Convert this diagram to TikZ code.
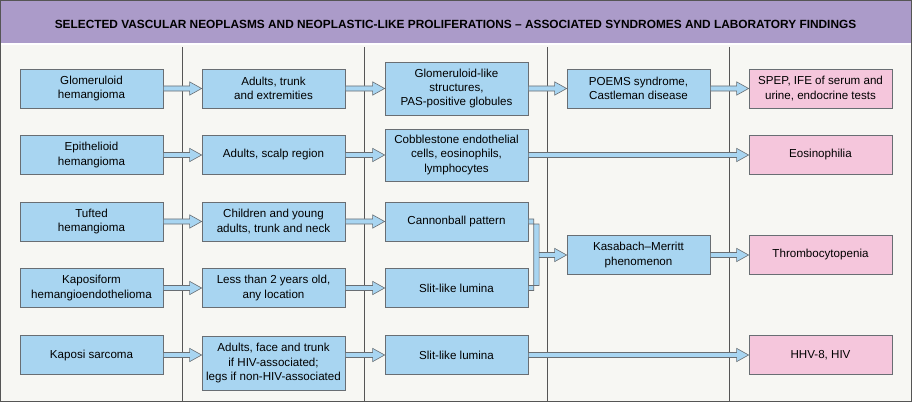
\documentclass[tikz,border=0pt]{standalone}
\usepackage{fontspec}
\setmainfont{Liberation Sans}
\usetikzlibrary{calc}

\definecolor{hdrpurple}{RGB}{171,155,201}
\definecolor{bodygray}{RGB}{247,247,243}
\definecolor{cellblue}{RGB}{168,213,241}
\definecolor{cellpink}{RGB}{245,198,220}
\definecolor{edgegray}{RGB}{105,110,115}
\definecolor{rulegray}{RGB}{85,85,85}

\begin{document}
\begin{tikzpicture}[x=0.75pt,y=0.75pt,yscale=-1,
  cell/.style={draw=edgegray, fill=cellblue, line width=0.6pt, minimum width=107.25pt, minimum height=29.25pt, inner sep=0pt, align=center, font=\fontsize{8.7}{10.7}\selectfont},
  labcell/.style={cell, fill=cellpink},
  blockarr/.style={draw=edgegray, fill=cellblue, line width=0.45pt,
    to path={let \p1=(\tikztostart), \p2=(\tikztotarget) in
      (\x1,\y1+1.9pt) -- (\x2-9pt,\y1+1.9pt) -- (\x2-9pt,\y1+5pt) -- (\x2,\y1) -- (\x2-9pt,\y1-5pt) -- (\x2-9pt,\y1-1.9pt) -- (\x1,\y1-1.9pt) -- cycle}},
  joinarr/.style={draw=edgegray, fill=cellblue, line width=0.45pt}
]
\useasboundingbox (0,0) rectangle (912,402);

%Shape: Frame
\draw[rulegray, fill=bodygray, line width=0.8pt] (0.5,0.5) rectangle (911.5,401.5);
%Shape: Header bar
\fill[hdrpurple] (1,1) rectangle (911,43);
\draw[white, line width=1.5pt] (1,44.5) -- (911,44.5);
%Straight Lines: column rules
\foreach \cx in {182.5,364.5,547.5,729.5}
  \draw[rulegray, line width=0.75pt] (\cx,47) -- (\cx,401);

% Text Node
\draw (455.5,24) node[font=\bfseries\fontsize{8.9}{10}\selectfont] (title) {SELECTED VASCULAR NEOPLASMS AND NEOPLASTIC-LIKE PROLIFERATIONS -- ASSOCIATED SYNDROMES AND LABORATORY FINDINGS};

%Row: glomeruloid
\draw (91.5,88.5) node[cell] (glom) {Glomeruloid\\hemangioma};
\draw (273.5,88.5) node[cell] (glomsite) {Adults, trunk\\and extremities};
\draw (456.5,88.5) node[cell, minimum height=39.75pt] (glomhist) {Glomeruloid-like\\structures,\\PAS-positive globules};
\draw (638.5,88.5) node[cell] (poems) {POEMS syndrome,\\Castleman disease};
\draw (820.5,88.5) node[labcell] (spep) {SPEP, IFE of serum and\\urine, endocrine tests};

%Row: epithelioid
\draw (91.5,155) node[cell] (epith) {Epithelioid\\hemangioma};
\draw (273.5,155) node[cell] (epsite) {Adults, scalp region};
\draw (456.5,155) node[cell, minimum height=39pt] (ephist) {Cobblestone endothelial\\cells, eosinophils,\\lymphocytes};
\draw (820.5,155) node[labcell] (eos) {Eosinophilia};

%Row: tufted
\draw (91.5,221.5) node[cell] (tufted) {Tufted\\hemangioma};
\draw (273.5,221.5) node[cell] (tfsite) {Children and young\\adults, trunk and neck};
\draw (456.5,221.5) node[cell] (cannon) {Cannonball pattern};

%Row: kaposiform
\draw (91.5,288) node[cell] (kaposiform) {Kaposiform\\hemangioendothelioma};
\draw (273.5,288) node[cell] (kfsite) {Less than 2 years old,\\any location};
\draw (456.5,288) node[cell] (kflumina) {Slit-like lumina};

%Shared: Kasabach-Merritt
\draw (638.5,255) node[cell] (kasabach) {Kasabach--Merritt\\phenomenon};
\draw (820.5,255) node[labcell] (thromb) {Thrombocytopenia};

%Row: Kaposi sarcoma
\draw (91.5,355) node[cell] (kaposi) {Kaposi sarcoma};
\draw (273.5,363) node[cell, minimum height=40.5pt] (kssite) {Adults, face and trunk\\if HIV-associated;\\legs if non-HIV-associated};
\draw (456.5,355) node[cell] (kslumina) {Slit-like lumina};
\draw (820.5,355) node[labcell] (hhv) {HHV-8, HIV};

%Block arrows
\draw[blockarr] (glom.east) to (glomsite.west);
\draw[blockarr] (glomsite.east) to (glomhist.west);
\draw[blockarr] (glomhist.east) to (poems.west);
\draw[blockarr] (poems.east) to (spep.west);

\draw[blockarr] (epith.east) to (epsite.west);
\draw[blockarr] (epsite.east) to (ephist.west);
\draw[blockarr] (ephist.east) to (eos.west);

\draw[blockarr] (tufted.east) to (tfsite.west);
\draw[blockarr] (tfsite.east) to (cannon.west);
\draw[blockarr] (kaposiform.east) to (kfsite.west);
\draw[blockarr] (kfsite.east) to (kflumina.west);
\draw[blockarr] (kasabach.east) to (thromb.west);

\draw[blockarr] (kaposi.east) to (kssite.west);
\draw[blockarr] (kssite.east |- kslumina.east) to (kslumina.west);
\draw[blockarr] (kslumina.east) to (hhv.west);

%Joined arrow into Kasabach-Merritt
\draw[joinarr] let \p1=(cannon.east), \p2=(kflumina.east), \p3=(kasabach.west) in
  (\x1,\y1+1.9pt) -- (\x1+8pt,\y1+1.9pt) -- (\x1+8pt,\y3+1.9pt) -- (\x3-9pt,\y3+1.9pt)
  -- (\x3-9pt,\y3+5pt) -- (\x3,\y3) -- (\x3-9pt,\y3-5pt) -- (\x3-9pt,\y3-1.9pt)
  -- (\x1+8pt,\y3-1.9pt) -- (\x1+8pt,\y2-1.9pt) -- (\x2,\y2-1.9pt) -- (\x2,\y2+1.9pt)
  -- (\x1+4pt,\y2+1.9pt) -- (\x1+4pt,\y1-1.9pt) -- (\x1,\y1-1.9pt) -- cycle;

\end{tikzpicture}
\end{document}
